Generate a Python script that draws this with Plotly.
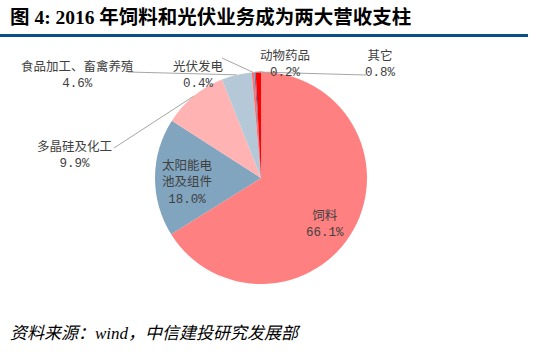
import math
import plotly.graph_objects as go

# ---- data ----
categories = ["饲料", "太阳能电池及组件", "多晶硅及化工", "食品加工、畜禽养殖", "光伏发电", "动物药品", "其它"]
label_text = ["饲料", "太阳能电<br>池及组件", "多晶硅及化工", "食品加工、畜禽养殖", "光伏发电", "动物药品", "其它"]
shares = [66.1, 18.0, 9.9, 4.6, 0.4, 0.2, 0.8]
colors = ["#FF8080", "#82A5BF", "#FFB3B3", "#B4C8D8", "#FF7070", "#4F7FB0", "#FF0000"]

title_text = "图 4: 2016 年饲料和光伏业务成为两大营收支柱"
source_text = "资料来源：wind，中信建投研究发展部"

# ---- layout geometry (pixels) ----
W, H = 539, 359
CX, CY, R = 261, 178, 106

def px(x):
    return x / W

def py(y):
    return 1 - y / H

# label centres (pixel) and leader-line end point at the label
label_pos = {
    "饲料": (325, 222, None),
    "太阳能电池及组件": (188, 181, None),
    "多晶硅及化工": (74, 153, (114, 148)),
    "食品加工、畜禽养殖": (77, 73, (128, 72)),
    "光伏发电": (198, 73, (222, 58)),
    "动物药品": (285, 62, (263, 72)),
    "其它": (380, 62, (366, 75)),
}

fig = go.Figure()
fig.add_trace(go.Pie(
    labels=categories,
    values=shares,
    sort=False,
    direction="clockwise",
    rotation=0,
    marker=dict(colors=colors, line=dict(width=0)),
    textinfo="none",
    hoverinfo="label+percent",
    showlegend=False,
    domain=dict(x=[px(CX - R), px(CX + R)], y=[py(CY + R), py(CY - R)]),
))

annotations = []
shapes = []

lab_family = "Noto Sans CJK SC, sans-serif"
pct_family = "Liberation Mono, monospace"

total = sum(shares)
cum = 0.0
for name, lt, v in zip(categories, label_text, shares):
    mid = (cum + v / 2) / total * 2 * math.pi
    cum += v
    ex = CX + R * math.sin(mid)
    ey = CY - R * math.cos(mid)
    lx, ly, lend = label_pos[name]
    annotations.append(dict(
        x=px(lx), y=py(ly), xref="paper", yref="paper",
        text=f"{lt}<br><span style='font-family:{pct_family}'>{v:.1f}%</span>",
        showarrow=False,
        xanchor="center", yanchor="middle", align="center",
        font=dict(family=lab_family, size=12.5, color="#404040"),
    ))
    if lend is not None:
        shapes.append(dict(
            type="line", xref="paper", yref="paper",
            x0=px(ex), y0=py(ey), x1=px(lend[0]), y1=py(lend[1]),
            line=dict(color="#A6A6A6", width=1),
        ))

# title
annotations.append(dict(
    x=px(8), y=py(17), xref="paper", yref="paper",
    text=f"<b>{title_text}</b>", showarrow=False,
    xanchor="left", yanchor="middle",
    font=dict(family="Liberation Serif, Noto Sans CJK SC, serif", size=19.5, color="#000000"),
))
# source
annotations.append(dict(
    x=px(8), y=py(333), xref="paper", yref="paper",
    text=f"<i>{source_text}</i>", showarrow=False,
    xanchor="left", yanchor="middle",
    font=dict(family="Liberation Serif, Noto Sans CJK SC, serif", size=17, color="#000000"),
))

# rule under title
shapes.append(dict(
    type="rect", xref="paper", yref="paper",
    x0=0, x1=px(528), y0=py(37), y1=py(34),
    fillcolor="#0B4E85", line=dict(width=0),
))

fig.update_layout(
    width=W, height=H, autosize=False,
    margin=dict(l=0, r=0, t=0, b=0),
    paper_bgcolor="white", plot_bgcolor="white",
    annotations=annotations, shapes=shapes,
)

fig.write_html(
    "out.html",
    config={"displayModeBar": False},
    post_script="document.body.style.margin='0px';document.body.style.padding='0px';",
)
